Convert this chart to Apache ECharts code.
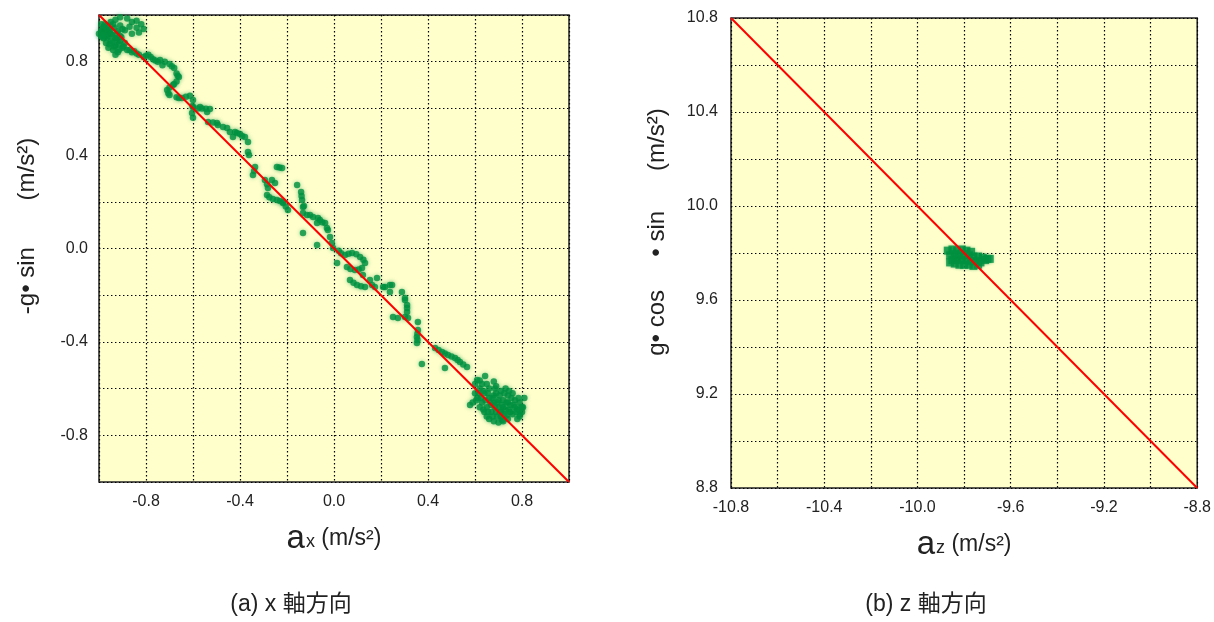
<!DOCTYPE html>
<html><head><meta charset="utf-8">
<script src="https://cdn.jsdelivr.net/npm/echarts@6/dist/echarts.min.js"></script>
<style>html,body{margin:0;padding:0;background:#fff}#c{width:1214px;height:622px}</style>
</head><body><div id="c"></div>
<script>
// ---------- data ----------
const xTickLabelsA = ['-0.8', '-0.4', '0.0', '0.4', '0.8'];
const yTickLabelsA = ['-0.8', '-0.4', '0.0', '0.4', '0.8'];
const xTickLabelsB = ['-10.8', '-10.4', '-10.0', '-9.6', '-9.2', '-8.8'];
const yTickLabelsB = ['8.8', '9.2', '9.6', '10.0', '10.4', '10.8'];
const rangeAx = [-1.0, 1.0];
const rangeAy = [-1.0, 1.0];
const rangeBx = [-10.8, -8.8];
const rangeBy = [8.8, 10.8];
const gridStep = 0.2;
const refLineA = [[-1.0, 1.0], [1.0, -1.0]];
const refLineB = [[-10.8, 10.8], [-8.8, 8.8]];
const yTitleA = '-g\u2022 sin       (m/s\u00b2)';
const yTitleB = 'g\u2022 cos     \u2022 sin      (m/s\u00b2)';
const xSubA = 'x';
const xSubB = 'z';
const captionA = '(a) x 軸方向';
const captionB = '(b) z 軸方向';

// measured points, panel (a): a_x vs -g·sinθ
const pointsA = [
  // cluster at upper-left
  [-0.99,0.93],[-0.98,0.95],[-0.97,0.91],[-0.96,0.94],[-0.95,0.89],[-0.95,0.92],[-0.94,0.96],
  [-0.93,0.90],[-0.93,0.87],[-0.92,0.93],[-0.91,0.89],[-0.90,0.86],[-0.89,0.88],[-0.97,0.88],
  [-0.98,0.90],[-0.99,0.96],[-0.96,0.86],[-0.94,0.85],[-0.92,0.84],[-0.91,0.91],[-0.90,0.94],
  [-1.00,0.92],[-0.95,0.97],[-0.88,0.85],[-0.99,0.91],[-0.97,0.93],
  [-0.985,0.94],[-0.975,0.925],[-0.965,0.905],[-0.955,0.935],[-0.945,0.915],[-0.935,0.945],
  [-0.925,0.895],[-0.915,0.875],[-0.905,0.905],[-0.895,0.865],[-0.965,0.955],[-0.955,0.875],
  [-0.935,0.865],[-0.985,0.905],[-0.945,0.88],[-0.925,0.92],[-0.975,0.96],[-0.915,0.85],[-0.93,0.83],
  // small loop above
  [-0.93,0.98],[-0.91,0.99],[-0.88,0.985],[-0.86,0.97],[-0.84,0.975],[-0.82,0.96],[-0.81,0.94],
  [-0.83,0.925],[-0.86,0.92],[-0.89,0.935],[-0.91,0.955],[-0.87,0.95],[-0.84,0.945],
  // trail
  [-0.87,0.85],[-0.86,0.84],[-0.85,0.845],[-0.84,0.835],[-0.83,0.83],[-0.81,0.82],[-0.80,0.825],
  [-0.79,0.83],[-0.78,0.82],[-0.77,0.81],[-0.76,0.805],[-0.75,0.80],
  [-0.73,0.785],[-0.74,0.807],[-0.72,0.80],[-0.70,0.79],[-0.69,0.78],[-0.68,0.773],[-0.67,0.75],
  [-0.665,0.74],[-0.66,0.734],[-0.67,0.715],[-0.68,0.705],
  [-0.685,0.70],[-0.70,0.69],[-0.71,0.679],[-0.705,0.665],[-0.70,0.657],[-0.67,0.648],[-0.66,0.645],
  [-0.647,0.645],[-0.63,0.65],[-0.613,0.654],
  [-0.60,0.636],[-0.602,0.61],[-0.604,0.58],[-0.60,0.56],[-0.60,0.605],[-0.58,0.60],[-0.562,0.60],
  [-0.545,0.598],[-0.528,0.597],
  [-0.57,0.606],[-0.54,0.585],[-0.536,0.542],[-0.515,0.54],[-0.498,0.537],[-0.494,0.529],[-0.472,0.52],
  [-0.455,0.516],[-0.443,0.499],[-0.43,0.477],[-0.421,0.499],[-0.413,0.495],[-0.40,0.49],[-0.391,0.482],
  [-0.379,0.477],[-0.366,0.456],[-0.366,0.413],[-0.362,0.40],[-0.336,0.349],[-0.34,0.332],[-0.345,0.315],
  [-0.243,0.349],[-0.232,0.347],[-0.221,0.345],[-0.294,0.293],[-0.281,0.259],[-0.285,0.275],[-0.264,0.293],
  [-0.251,0.28],[-0.285,0.229],[-0.275,0.22],[-0.26,0.212],[-0.243,0.208],[-0.23,0.203],[-0.217,0.199],
  [-0.157,0.272],[-0.14,0.242],[-0.138,0.225],[-0.136,0.208],
  [-0.132,0.178],[-0.196,0.165],[-0.217,0.195],[-0.205,0.18],[-0.128,0.182],[-0.132,0.152],[-0.115,0.143],
  [-0.102,0.143],[-0.089,0.135],[-0.068,0.131],[-0.06,0.122],[-0.038,0.109],[-0.072,0.109],[-0.05,0.112],
  [-0.03,0.088],[-0.132,0.066],[-0.072,0.015],[-0.026,0.079],[-0.017,0.049],[-0.009,0.024],
  [-0.004,0.002],[0.013,-0.062],[0.02,-0.01],[0.03,-0.02],
  // loop near origin
  [0.047,-0.028],[0.062,-0.022],[0.077,-0.019],[0.095,-0.025],[0.111,-0.036],[0.125,-0.048],[0.132,-0.062],
  [0.119,-0.084],[0.105,-0.09],[0.089,-0.092],[0.07,-0.088],
  [0.055,-0.079],[0.068,-0.135],[0.083,-0.147],[0.098,-0.156],[0.115,-0.162],[0.132,-0.165],[0.162,-0.156],
  [0.183,-0.126],
  [0.123,-0.113],[0.153,-0.135],[0.174,-0.165],[0.209,-0.165],[0.217,-0.165],[0.238,-0.156],
  [0.247,-0.156],[0.238,-0.186],[0.289,-0.186],[0.302,-0.212],[0.302,-0.221],[0.311,-0.242],
  [0.311,-0.255],[0.311,-0.272],[0.302,-0.293],[0.315,-0.298],[0.251,-0.293],[0.272,-0.298],
  [0.357,-0.315],[0.357,-0.349],[0.353,-0.379],[0.353,-0.405],[0.355,-0.365],[0.355,-0.392],
  [0.43,-0.426],[0.445,-0.435],[0.46,-0.443],[0.472,-0.45],[0.485,-0.456],[0.50,-0.462],[0.515,-0.469],
  [0.526,-0.478],[0.536,-0.486],[0.55,-0.497],[0.566,-0.507],
  [0.374,-0.495],[0.472,-0.512],[0.609,-0.563],[0.643,-0.546],
  // cluster at lower-right
  [0.60,-0.58],[0.62,-0.60],[0.61,-0.64],[0.63,-0.66],[0.64,-0.62],[0.65,-0.68],[0.66,-0.64],
  [0.67,-0.70],[0.68,-0.66],[0.69,-0.62],[0.70,-0.68],[0.71,-0.72],[0.72,-0.65],[0.73,-0.69],
  [0.74,-0.63],[0.75,-0.67],[0.76,-0.71],[0.77,-0.65],[0.78,-0.69],[0.79,-0.66],[0.80,-0.68],
  [0.81,-0.64],[0.80,-0.70],[0.66,-0.73],[0.68,-0.74],[0.70,-0.745],[0.72,-0.74],[0.74,-0.73],
  [0.64,-0.70],[0.62,-0.68],[0.59,-0.66],[0.60,-0.62],[0.63,-0.58],[0.66,-0.60],[0.69,-0.59],
  [0.71,-0.61],[0.73,-0.60],[0.76,-0.62],[0.67,-0.67],[0.70,-0.65],[0.75,-0.70],[0.78,-0.73],
  [0.65,-0.72],[0.69,-0.70],[0.72,-0.68],[0.74,-0.66],[0.77,-0.68],[0.79,-0.71],[0.71,-0.70],
  [0.68,-0.63],[0.804,-0.68],[0.79,-0.72],[0.579,-0.67],
  [0.615,-0.62],[0.625,-0.64],[0.635,-0.61],[0.645,-0.65],[0.655,-0.62],[0.665,-0.66],[0.675,-0.64],
  [0.685,-0.68],[0.695,-0.66],[0.705,-0.70],[0.715,-0.67],[0.725,-0.71],[0.735,-0.66],[0.745,-0.69],
  [0.755,-0.64],[0.765,-0.67],[0.775,-0.70],[0.785,-0.64],[0.795,-0.68],[0.675,-0.72],[0.695,-0.72],
  [0.715,-0.735],[0.735,-0.715],[0.655,-0.70],[0.635,-0.69],[0.605,-0.65],[0.685,-0.60],[0.705,-0.63],
  [0.725,-0.62],[0.745,-0.61],[0.65,-0.58],[0.68,-0.57],[0.62,-0.565]
];

// measured points, panel (b): a_z vs g·cosθ·sinφ
const pointsB = [
  [-9.87,9.81],[-9.85,9.815],[-9.83,9.81],[-9.81,9.815],[-9.79,9.81],[-9.77,9.805],
  [-9.86,9.79],[-9.84,9.795],[-9.82,9.79],[-9.80,9.795],[-9.78,9.79],[-9.76,9.785],
  [-9.74,9.785],[-9.72,9.78],[-9.70,9.775],[-9.85,9.77],[-9.83,9.775],[-9.81,9.77],
  [-9.79,9.77],[-9.77,9.765],[-9.75,9.765],[-9.73,9.76],[-9.84,9.755],[-9.82,9.75],
  [-9.80,9.75],[-9.78,9.75],[-9.76,9.745],[-9.74,9.75],[-9.86,9.76],[-9.71,9.77],[-9.69,9.775]
];

// ---------- chart ----------
const FONT = '"Liberation Sans", Arial, "Noto Sans CJK JP", sans-serif';
const GREEN = '#009140';
function fmt(list) {
  return function (v) {
    if (Math.abs(v) < 1e-9) v = 0;
    const s = v.toFixed(1);
    return list.indexOf(s) >= 0 ? s : '';
  };
}
const split = { show: true, lineStyle: { color: '#000', width: 1.2, type: [1.4, 2.6] } };
function xAxis(idx, range, labels, sub) {
  return {
    type: 'value', gridIndex: idx, min: range[0], max: range[1], interval: gridStep,
    axisLine: { show: false }, axisTick: { show: false }, splitLine: split,
    axisLabel: { formatter: fmt(labels), margin: 12, fontSize: 16, color: '#222', fontFamily: FONT,
      showMinLabel: true, showMaxLabel: true },
    name: '{a|a}{s|' + sub + '}{u| (m/s\u00b2)}', nameLocation: 'middle', nameGap: 40,
    nameTextStyle: { fontFamily: FONT, color: '#222',
      rich: { a: { fontSize: 33, fontFamily: FONT, color: '#222' },
              s: { fontSize: 18, fontFamily: FONT, color: '#222', padding: [8, 0, 0, 1] },
              u: { fontSize: 23, fontFamily: FONT, color: '#222' } } }
  };
}
function yAxis(idx, range, labels, margin) {
  return {
    type: 'value', gridIndex: idx, min: range[0], max: range[1], interval: gridStep,
    axisLine: { show: false }, axisTick: { show: false }, splitLine: split,
    axisLabel: { formatter: fmt(labels), margin: margin, fontSize: 16, color: '#222', fontFamily: FONT,
      showMinLabel: true, showMaxLabel: true }
  };
}
const chart = echarts.init(document.getElementById('c'), null, { renderer: 'canvas' });
const gridBase = { show: true, backgroundColor: '#FFFFCC', borderColor: '#222', borderWidth: 1.5 };
chart.setOption({
  animation: false,
  backgroundColor: '#fff',
  grid: [
    Object.assign({ left: 99, top: 15, width: 470, height: 467 }, gridBase),
    Object.assign({ left: 731, top: 18, width: 475, height: 470 }, gridBase)
  ],
  xAxis: [xAxis(0, rangeAx, xTickLabelsA, xSubA), xAxis(1, rangeBx, xTickLabelsB, xSubB)],
  yAxis: [yAxis(0, rangeAy, yTickLabelsA, 11), yAxis(1, rangeBy, yTickLabelsB, 13)],
  series: [
    { type: 'scatter', xAxisIndex: 0, yAxisIndex: 0, data: pointsA, symbolSize: 6.5,
      itemStyle: { color: GREEN, shadowBlur: 4, shadowColor: 'rgba(0,150,70,0.5)' }, z: 2 },
    { type: 'line', xAxisIndex: 0, yAxisIndex: 0, data: refLineA, symbol: 'none',
      lineStyle: { color: '#FF0000', width: 2 }, z: 3 },
    { type: 'scatter', xAxisIndex: 1, yAxisIndex: 1, data: pointsB, symbolSize: 8, symbol: 'rect',
      itemStyle: { color: GREEN, shadowBlur: 3, shadowColor: 'rgba(0,150,70,0.45)' }, z: 2 },
    { type: 'line', xAxisIndex: 1, yAxisIndex: 1, data: refLineB, symbol: 'none',
      lineStyle: { color: '#FF0000', width: 2 }, z: 3 }
  ],
  graphic: [
    { type: 'text', x: 27, y: 226, rotation: Math.PI / 2,
      style: { text: yTitleA, font: '24px ' + FONT, fill: '#222', align: 'center', verticalAlign: 'middle' } },
    { type: 'text', x: 657, y: 232, rotation: Math.PI / 2,
      style: { text: yTitleB, font: '24px ' + FONT, fill: '#222', align: 'center', verticalAlign: 'middle' } },
    { type: 'text', x: 291, y: 605,
      style: { text: captionA, font: '23px "Liberation Sans", "Noto Sans CJK JP", sans-serif', fill: '#222', align: 'center', verticalAlign: 'middle' } },
    { type: 'text', x: 926, y: 605,
      style: { text: captionB, font: '23px "Liberation Sans", "Noto Sans CJK JP", sans-serif', fill: '#222', align: 'center', verticalAlign: 'middle' } }
  ]
});
</script></body></html>
